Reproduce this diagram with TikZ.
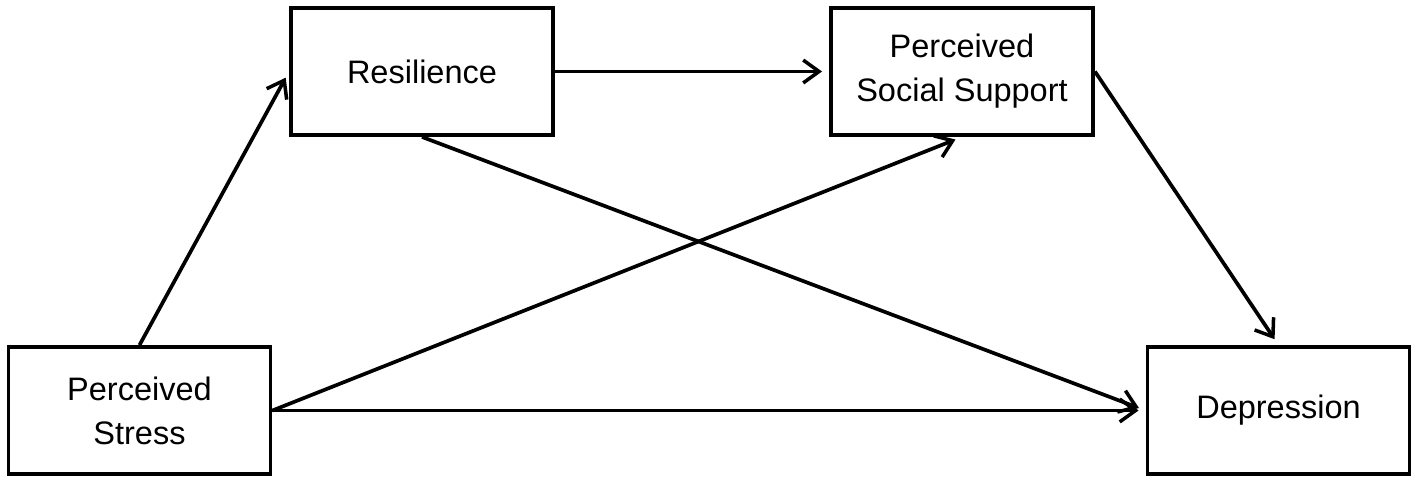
\documentclass[tikz,border=0pt]{standalone}
\usepackage{fontspec}
\setmainfont{Liberation Sans}
\usetikzlibrary{arrows.meta,positioning}
\tikzset{
  >={Straight Barb[length=9pt,width=13pt,line width=2pt]},
  var box/.style={draw,line width=2.2pt,minimum width=5.24cm,minimum height=2.54cm,
    align=center,font=\fontsize{18.5}{25}\selectfont,inner sep=2pt},
  path arrow/.style={->,line width=2.1pt,shorten >=4pt}
}
\begin{document}
\begin{tikzpicture}
\useasboundingbox (0,0) rectangle (28.34,-9.70);
% variables
\node[var box] (res) at (8.44,-1.43) {Resilience};
\node[var box] (pss) at (19.24,-1.43) {Perceived\\Social Support};
\node[var box] (stress) at (2.79,-8.21) {Perceived\\Stress};
\node[var box] (dep) at (25.57,-8.21) {Depression};
% paths
\draw[path arrow] (stress.north) -- (res.west);
\draw[path arrow] (res.east) -- (pss.west);
\draw[path arrow] (res.south) -- (dep.west);
\draw[path arrow] (stress.east) -- (pss.south);
\draw[path arrow] (stress.east) -- (dep.west);
\draw[path arrow] (pss.east) -- (dep.north);
\end{tikzpicture}
\end{document}
